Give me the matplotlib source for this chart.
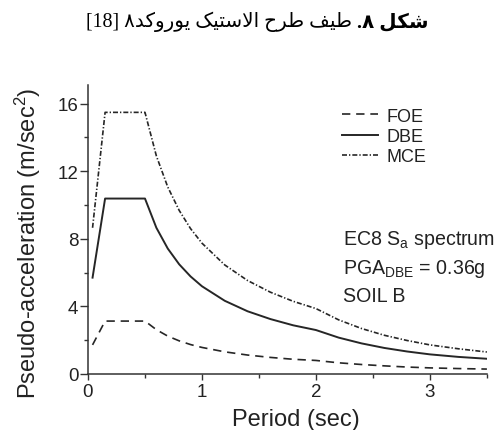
import matplotlib
matplotlib.use("Agg")
import matplotlib.pyplot as plt
from matplotlib.ticker import MultipleLocator

plt.rcParams['font.family'] = ['Liberation Sans', 'DejaVu Sans']
plt.rcParams['mathtext.default'] = 'regular'

# values
period = [0.04, 0.15, 0.50, 0.60, 0.70, 0.80, 0.90, 1.00, 1.20, 1.40, 1.60,
          1.80, 2.00, 2.20, 2.40, 2.60, 2.80, 3.00, 3.25, 3.50]
foe = [1.72, 3.13, 3.13, 2.62, 2.24, 1.96, 1.74, 1.57, 1.31, 1.12, 0.98,
       0.87, 0.80, 0.66, 0.56, 0.48, 0.41, 0.36, 0.32, 0.29]
dbe = [5.70, 10.38, 10.38, 8.65, 7.42, 6.49, 5.77, 5.19, 4.33, 3.71, 3.25,
       2.88, 2.60, 2.15, 1.81, 1.54, 1.33, 1.16, 1.01, 0.90]
mce = [8.65, 15.48, 15.48, 12.90, 11.06, 9.68, 8.60, 7.74, 6.45, 5.53, 4.84,
       4.30, 3.87, 3.20, 2.69, 2.29, 1.98, 1.72, 1.49, 1.30]
labels = ["FOE", "DBE", "MCE"]
notes = ["EC8 S$_a$ spectrum", "PGA$_{DBE}$ = 0.36g", "SOIL B"]

# caption, logical (typed) order
cap_bold = ["شکل", "۸."]
cap_rest = ["طیف", "طرح", "الاستیک", "یوروکد۸", "[18]"]

# isolated, final, initial, medial (two forms = letter does not join forward)
FORMS = {
    'ا': '\uFE8D\uFE8E', 'د': '\uFEA9\uFEAA', 'ر': '\uFEAD\uFEAE',
    'و': '\uFEED\uFEEE',
    'ت': '\uFE95\uFE96\uFE97\uFE98', 'ح': '\uFEA1\uFEA2\uFEA3\uFEA4',
    'س': '\uFEB1\uFEB2\uFEB3\uFEB4', 'ش': '\uFEB5\uFEB6\uFEB7\uFEB8',
    'ط': '\uFEC1\uFEC2\uFEC3\uFEC4', 'ف': '\uFED1\uFED2\uFED3\uFED4',
    'ل': '\uFEDD\uFEDE\uFEDF\uFEE0', 'ک': '\uFB8E\uFB8F\uFB90\uFB91',
    'ی': '\uFBFC\uFBFD\uFBFE\uFBFF',
    'لا': '\uFEFB\uFEFC',
}


def rtl(word):
    # shape an Arabic-script word and return it in visual (left-to-right) order
    if not any(c in FORMS or '\u06F0' <= c <= '\u06F9' for c in word):
        return word
    letters = []
    i = 0
    while i < len(word):
        if word[i:i + 2] == 'لا':
            letters.append('لا')
            i += 2
        else:
            letters.append(word[i])
            i += 1
    out = []
    for k, c in enumerate(letters):
        f = FORMS.get(c)
        if f is None:
            out.append(c)
            continue
        prev = letters[k - 1] if k > 0 else None
        nxt = letters[k + 1] if k + 1 < len(letters) else None
        join_prev = prev in FORMS and len(FORMS[prev]) == 4
        join_next = nxt in FORMS and len(f) == 4
        out.append(f[join_prev + 2 * join_next])
    return ''.join(reversed(out))


fig = plt.figure(figsize=(4.98, 4.31), dpi=100)
ax = fig.add_axes([0.1767, 0.130, 0.801, 0.6705])

col = '#262626'
ax.plot(period, foe, color=col, lw=1.2, ls=(0, (5, 3.5)), label=labels[0])
ax.plot(period, dbe, color=col, lw=1.4, ls='-', label=labels[1])
ax.plot(period, mce, color=col, lw=1.2, ls=(0, (3, 1.2, 0.8, 1.2)), label=labels[2])

ax.set_xlim(0, 3.5)
ax.set_ylim(0, 17.1)
ax.xaxis.set_major_locator(MultipleLocator(1))
ax.xaxis.set_minor_locator(MultipleLocator(0.5))
ax.yaxis.set_major_locator(MultipleLocator(4))
ax.yaxis.set_minor_locator(MultipleLocator(2))

ax.spines['top'].set_visible(False)
ax.spines['right'].set_visible(False)
for s in ['left', 'bottom']:
    ax.spines[s].set_linewidth(1.1)
    ax.spines[s].set_color('#333333')

ax.tick_params(axis='both', which='both', direction='out', color='#333333',
               width=1.0, labelsize=13.5, labelcolor='#222222')
ax.tick_params(axis='y', which='major', length=5.5, pad=1.5)
ax.tick_params(axis='y', which='minor', length=3)
ax.tick_params(axis='x', which='major', length=4.3, pad=2.5)
ax.tick_params(axis='x', which='minor', length=3.2)

ax.set_xlabel("Period (sec)", fontsize=17, color='#222222')
ax.set_ylabel("Pseudo-acceleration (m/sec$^2$)", fontsize=17, color='#222222')
ax.xaxis.set_label_coords(0.52, -0.118)
ax.yaxis.set_label_coords(-0.112, 0.455)

ax.legend(loc='upper left', bbox_to_anchor=(0.637, 0.921), frameon=False,
          fontsize=13, handlelength=2.0, handletextpad=0.45,
          labelspacing=0.18, borderpad=0, borderaxespad=0,
          labelcolor='#222222')

for k, t in enumerate(notes):
    ax.text(2.24, [8.0, 6.27, 4.67][k], t, fontsize=14.1, color='#222222',
            va='center', ha='left')

# caption above the chart
cap_font = ['Liberation Serif', 'DejaVu Sans']
x0 = 0.717
fig.text(x0, 0.949, ' '.join(rtl(w) for w in reversed(cap_rest)) + ' ',
         ha='right', va='center', fontsize=14.4, family=cap_font, color='black')
fig.text(x0, 0.949, ' '.join(rtl(w) for w in reversed(cap_bold)),
         ha='left', va='center', fontsize=14.4, family=cap_font,
         fontweight='bold', color='black')

fig.savefig("out.png", dpi=100)
